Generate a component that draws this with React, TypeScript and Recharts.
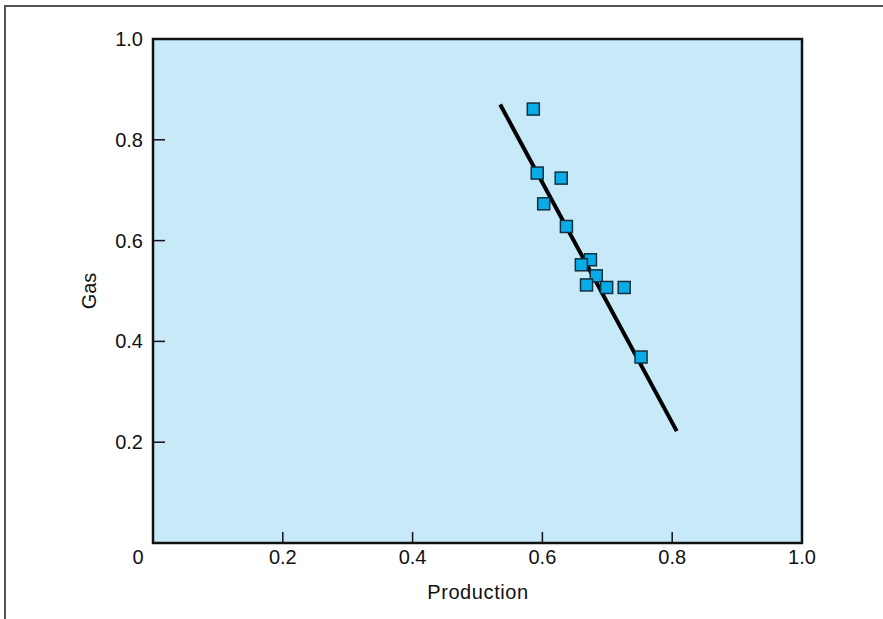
import {
    ScatterChart,
    Scatter,
    XAxis,
    YAxis,
    ReferenceArea,
} from "recharts";

// production share vs gas share
const production = [0.586, 0.592, 0.629, 0.602, 0.637, 0.674, 0.66, 0.683, 0.668, 0.699, 0.726, 0.752];
const gas = [0.861, 0.734, 0.724, 0.673, 0.628, 0.562, 0.552, 0.53, 0.512, 0.507, 0.507, 0.369];

// fitted line end points
const fitX = [0.535, 0.807];
const fitY = [0.87, 0.222];

const xTicks = [0, 0.2, 0.4, 0.6, 0.8, 1.0];
const yTicks = [0.2, 0.4, 0.6, 0.8, 1.0];

const points = production.map((p, i) => ({ x: p, y: gas[i] }));
const fitLine = fitX.map((p, i) => ({ x: p, y: fitY[i] }));

const FONT = '"Liberation Sans", Arial, Helvetica, sans-serif';

const fmt = (v: number) => (v === 0 ? "0" : v.toFixed(1));

const XTick = ({ x, y, payload }: any) => {
    const v = payload.value;
    const inner = v > 0 && v < 1;
    return (
        <g>
            {inner && <line x1={x} x2={x} y1={y} y2={y - 11} stroke="#111" strokeWidth={1.5} />}
            <text
                x={v === 0 ? x - 15 : x}
                y={y + 21}
                textAnchor="middle"
                fontSize={20}
                fontFamily={FONT}
                fill="#111"
            >
                {fmt(v)}
            </text>
        </g>
    );
};

const YTick = ({ x, y, payload }: any) => {
    const v = payload.value;
    const inner = v > 0 && v < 1;
    return (
        <g>
            {inner && <line x1={x} x2={x + 12} y1={y} y2={y} stroke="#111" strokeWidth={1.5} />}
            <text x={x - 10} y={y + 7} textAnchor="end" fontSize={20} fontFamily={FONT} fill="#111">
                {fmt(v)}
            </text>
        </g>
    );
};

const Square = ({ cx, cy }: any) => (
    <rect x={cx - 6} y={cy - 6} width={12} height={12} fill="#0AACE8" stroke="#14303f" strokeWidth={1.5} />
);

export default function App() {
    return (
        <div style={{ position: "absolute", left: 0, top: 0, width: 883, height: 619, background: "#fff" }}>
            {/* outer frame */}
            <div style={{ position: "absolute", left: 4, top: 5, right: 0, bottom: 0, borderLeft: "2px solid #555", borderTop: "2px solid #555" }} />
            <ScatterChart width={883} height={619} margin={{ top: 39, right: 81, bottom: 46, left: 93 }}>
                <XAxis
                    type="number"
                    dataKey="x"
                    domain={[0, 1]}
                    ticks={xTicks}
                    interval={0}
                    axisLine={false}
                    tickLine={false}
                    tickSize={0}
                    tickMargin={0}
                    height={30}
                    tick={<XTick />}
                    allowDataOverflow
                />
                <YAxis
                    type="number"
                    dataKey="y"
                    domain={[0, 1]}
                    ticks={yTicks}
                    interval={0}
                    axisLine={false}
                    tickLine={false}
                    tickSize={0}
                    tickMargin={0}
                    width={60}
                    tick={<YTick />}
                    allowDataOverflow
                />
                <ReferenceArea x1={0} x2={1} y1={0} y2={1} fill="#C7E9F8" fillOpacity={1} stroke="#111" strokeWidth={2.5} />
                <Scatter
                    data={fitLine}
                    line={{ stroke: "#000", strokeWidth: 4 }}
                    shape={() => null}
                    isAnimationActive={false}
                />
                <Scatter data={points} shape={<Square />} isAnimationActive={false} />
                <text x={478} y={599} textAnchor="middle" fontSize={20} fontFamily={FONT} fill="#111" letterSpacing={0.6}>
                    Production
                </text>
                <text
                    x={96}
                    y={291}
                    textAnchor="middle"
                    fontSize={20}
                    fontFamily={FONT}
                    fill="#111"
                    transform="rotate(-90 96 291)"
                >
                    Gas
                </text>
            </ScatterChart>
        </div>
    );
}
